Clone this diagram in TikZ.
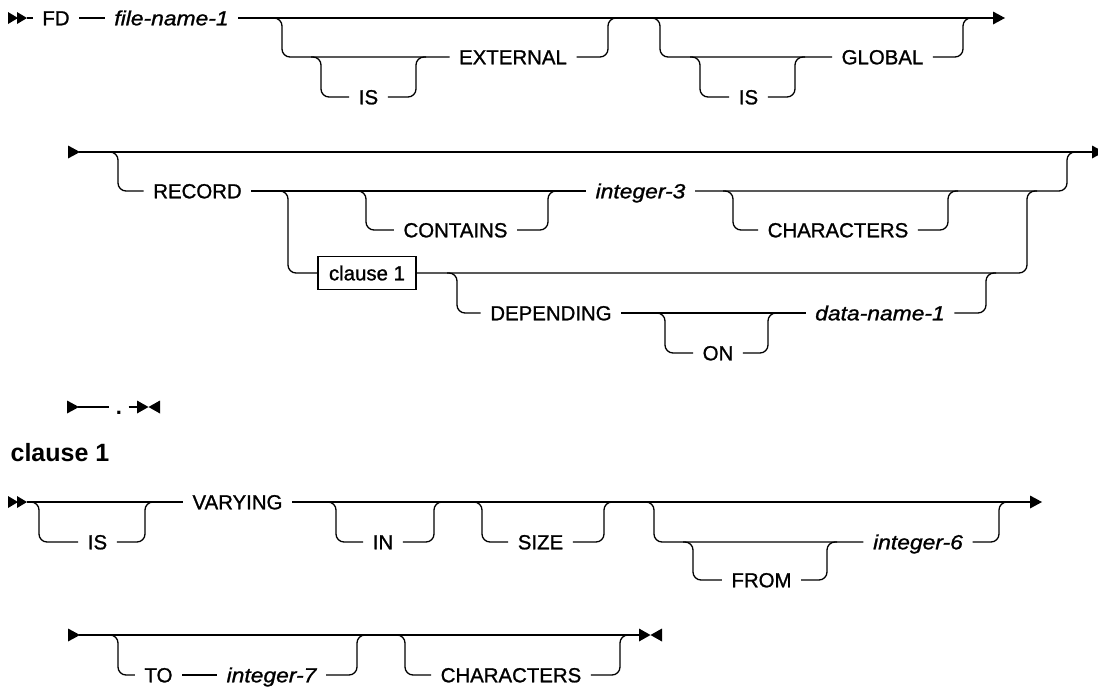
\documentclass[tikz,border=0pt]{standalone}
\usepackage{fontspec}
\setmainfont{Liberation Sans}
\newfontfamily\lblfont{Liberation Sans}[FakeBold=1.1, ItalicFeatures={FakeStretch=1.12}]
\tikzset{
  rtri/.pic={\fill (0,-6.5) -- (12,0) -- (0,6.5) -- cycle;},
  dtri/.pic={\fill (0,-6) -- (10,0) -- (0,6) -- cycle; \fill (9,-6) -- (19,0) -- (9,6) -- cycle;},
  bowtie/.pic={\fill (0,-6.5) -- (11.5,0) -- (0,6.5) -- cycle; \fill (23,-6.5) -- (11.5,0) -- (23,6.5) -- cycle;},
  rc/.style={rounded corners=8pt},
  kw/.style={inner xsep=9pt, inner ysep=0pt, text height=14.6pt, text depth=0pt, font=\lblfont\fontsize{20.4}{24}\selectfont},
  var/.style={kw, font=\lblfont\fontsize{20.4}{24}\selectfont\itshape},
  refbox/.style={draw, inner xsep=0pt, inner ysep=0pt, text height=14.6pt, text depth=0pt, minimum width=98pt, minimum height=33pt, font=\lblfont\fontsize{20.4}{24}\selectfont},
  heading/.style={anchor=base west, inner sep=0pt, font=\fontsize{25}{30}\selectfont\bfseries}
}
\begin{document}
\begin{tikzpicture}[x=1pt,y=-1pt,line width=1.3pt]
\useasboundingbox (0,0) rectangle (1098,688);
\clip (0,0) rectangle (1098,688);

% ---------- Row 1 ----------
\pic at (8,18) {dtri};
\coordinate (r1s) at (27,18);
\node[kw] (fd) at (56,18) {FD};
\node[var] (fn1) at (171.5,18) {file-name-1};
\coordinate (r1e) at (993,18);
\draw (r1s) -- (fd) -- (fn1) -- (r1e);
\pic at (r1e) {rtri};
% EXTERNAL group
\node[kw] (ext) at (513,57) {EXTERNAL};
\node[kw] (isA) at (368.5,97) {IS};
\draw[rc] (272,18) -- (282,18) -- (282,57) -- (ext.west);
\draw[rc] (311,57) -- (321,57) -- (321,97) -- (isA.west);
\draw[rc] (isA.east) -- (416,97) -- (416,57) -- (426,57);
\draw[rc] (ext.east) -- (608,57) -- (608,18) -- (618,18);
% GLOBAL group
\node[kw] (glob) at (882.5,57) {GLOBAL};
\node[kw] (isB) at (748.5,97) {IS};
\draw[rc] (650,18) -- (660,18) -- (660,57) -- (glob.west);
\draw[rc] (690,57) -- (700,57) -- (700,97) -- (isB.west);
\draw[rc] (isB.east) -- (795,97) -- (795,57) -- (805,57);
\draw[rc] (glob.east) -- (963,57) -- (963,18) -- (973,18);

% ---------- Row 2 ----------
\pic at (68,152) {rtri};
\coordinate (r2s) at (79,152);
\coordinate (r2e) at (1092,152);
\draw (r2s) -- (r2e);
\pic at (r2e) {rtri};
\node[kw] (rec) at (197.5,191) {RECORD};
\node[var] (i3) at (640.5,191) {integer-3};
\draw[rc] (108,152) -- (118,152) -- (118,191) -- (rec.west);
\draw (rec.east) -- (i3.west);
\draw[rc] (i3.east) -- (1067,191) -- (1067,152) -- (1077,152);
\node[kw] (cont) at (455.5,230) {CONTAINS};
\draw[rc] (356,191) -- (366,191) -- (366,230) -- (cont.west);
\draw[rc] (cont.east) -- (548,230) -- (548,191) -- (558,191);
\node[kw] (chr) at (838,230) {CHARACTERS};
\draw[rc] (723,191) -- (733,191) -- (733,230) -- (chr.west);
\draw[rc] (chr.east) -- (948,230) -- (948,191) -- (958,191);
\node[refbox] (cl) at (367,273) {clause 1};
\draw[rc] (278,191) -- (288,191) -- (288,273) -- (cl.west);
\draw[rc] (cl.east) -- (1027,273) -- (1027,191) -- (1037,191);
\node[kw] (dep) at (551,313) {DEPENDING};
\node[var] (dn1) at (880,313) {data-name-1};
\node[kw] (on) at (718,353) {ON};
\draw[rc] (447,273) -- (457,273) -- (457,313) -- (dep.west);
\draw (dep.east) -- (dn1.west);
\draw[rc] (655,313) -- (665,313) -- (665,353) -- (on.west);
\draw[rc] (on.east) -- (768,353) -- (768,313) -- (778,313);
\draw[rc] (dn1.east) -- (986,313) -- (986,273) -- (996,273);

% ---------- Row 3 ----------
\pic at (67,407) {rtri};
\coordinate (r3s) at (78,407);
\node[kw, inner xsep=6pt, font=\fontsize{22}{26}\selectfont\bfseries] (dot) at (119,407) {.};
\coordinate (r3e) at (137,407);
\draw (r3s) -- (dot) -- (r3e);
\pic at (r3e) {bowtie};

% ---------- heading ----------
\node[heading] (hd) at (10,461) {clause 1};

% ---------- Row 4 ----------
\pic at (8,502) {dtri};
\coordinate (r4s) at (27,502);
\node[kw] (vary) at (237.5,502) {VARYING};
\coordinate (r4e) at (1030,502);
\draw (r4s) -- (vary) -- (r4e);
\pic at (r4e) {rtri};
\node[kw] (isC) at (97.5,542) {IS};
\draw[rc] (29,502) -- (39,502) -- (39,542) -- (isC.west);
\draw[rc] (isC.east) -- (145,542) -- (145,502) -- (155,502);
\node[kw] (in) at (383,542) {IN};
\draw[rc] (326,502) -- (336,502) -- (336,542) -- (in.west);
\draw[rc] (in.east) -- (434,542) -- (434,502) -- (444,502);
\node[kw] (size) at (540.5,542) {SIZE};
\draw[rc] (472,502) -- (482,502) -- (482,542) -- (size.west);
\draw[rc] (size.east) -- (604,542) -- (604,502) -- (614,502);
\node[var] (i6) at (918,542) {integer-6};
\draw[rc] (644,502) -- (654,502) -- (654,542) -- (i6.west);
\draw[rc] (i6.east) -- (999,542) -- (999,502) -- (1009,502);
\node[kw] (from) at (761.5,580) {FROM};
\draw[rc] (683,542) -- (693,542) -- (693,580) -- (from.west);
\draw[rc] (from.east) -- (827,580) -- (827,542) -- (837,542);

% ---------- Row 5 ----------
\pic at (68,635) {rtri};
\coordinate (r5s) at (79,635);
\coordinate (r5e) at (639,635);
\draw (r5s) -- (r5e);
\pic at (r5e) {bowtie};
\node[kw] (to) at (158.5,675) {TO};
\node[var] (i7) at (271.5,675) {integer-7};
\draw[rc] (108,635) -- (118,635) -- (118,675) -- (to.west);
\draw (to.east) -- (i7.west);
\draw[rc] (i7.east) -- (357,675) -- (357,635) -- (367,635);
\node[kw] (chr2) at (511,675) {CHARACTERS};
\draw[rc] (395,635) -- (405,635) -- (405,675) -- (chr2.west);
\draw[rc] (chr2.east) -- (620,675) -- (620,635) -- (630,635);
\end{tikzpicture}
\end{document}
